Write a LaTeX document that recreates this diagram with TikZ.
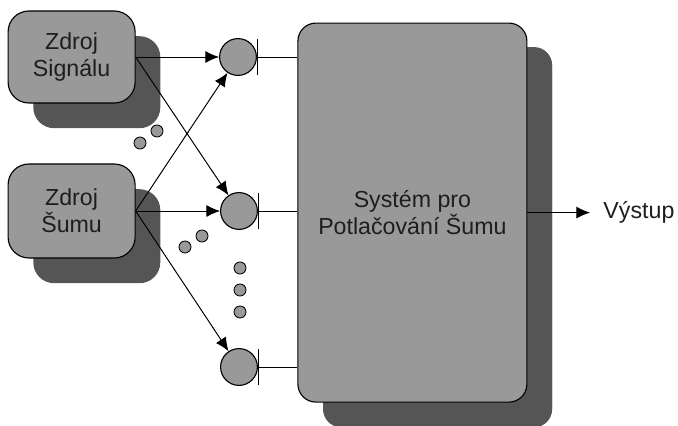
\documentclass[tikz,border=0pt]{standalone}
\usepackage{fontspec}
\setmainfont{Liberation Sans}
\usetikzlibrary{arrows.meta, positioning, calc, shadows}
\definecolor{boxgray}{RGB}{153,153,153}
\definecolor{shadowgray}{RGB}{85,85,85}
\definecolor{textgray}{RGB}{30,30,30}

\begin{document}
\begin{tikzpicture}[>={Latex[length=0.34cm, width=0.3cm]}, font=\fontsize{16.5}{19.5}\selectfont,
    srcbox/.style={draw, line width=0.8pt, rounded corners=0.52cm, fill=boxgray, text=textgray,
        minimum width=3.175cm, minimum height=2.3cm, align=center,
        drop shadow={shadow xshift=0.63cm, shadow yshift=-0.63cm, fill=shadowgray, opacity=1}},
    sumnode/.style={circle, draw, line width=0.8pt, fill=boxgray, minimum size=0.92cm, inner sep=0pt},
    dotnode/.style={circle, draw, line width=0.6pt, fill=boxgray, minimum size=0.3cm, inner sep=0pt},
    link/.style={->, line width=0.7pt}]
    \useasboundingbox (0,0) rectangle (16.95,10.625);

    % Signal source
    \node[srcbox] (signal) at (1.79,9.2) {Zdroj\\Signálu};

    % Noise source
    \node[srcbox, minimum height=2.35cm] (noise) at (1.79,5.35) {Zdroj\\Šumu};

    % Noise cancelling system
    \node[srcbox, rounded corners=0.45cm, minimum width=5.725cm, minimum height=9.475cm,
        drop shadow={shadow xshift=0.63cm, shadow yshift=-0.6cm, fill=shadowgray, opacity=1}]
        (system) at (10.31,5.31) {Systém pro\\Potlačování Šumu};

    % Summing points
    \node[sumnode] (sumA) at (5.95,9.2) {};
    \node[sumnode] (sumB) at (5.975,5.35) {};
    \node[sumnode] (sumC) at (5.975,1.45) {};

    % Output
    \node[anchor=west, inner xsep=0.33cm, text=textgray] (vystup) at (14.75,5.31) {Výstup};

    % Arrows: sources to summing points
    \draw[link] (signal.east) -- (sumA);
    \draw[link] (signal.east) -- (sumB);
    \draw[link] (noise.east) -- (sumA);
    \draw[link] (noise.east) -- (sumB);
    \draw[link] (noise.east) -- (sumC);

    % Lines: summing points to system
    \foreach \s in {sumA, sumB, sumC}
        \draw[{Bar[width=0.92cm, line width=0.8pt]}-, line width=0.7pt] (\s.east) -- (\s.east -| system.west);

    % Arrow: system to output
    \draw[link] (system.east |- vystup.west) -- (vystup.west);

    % Continuation dots
    \foreach \p [count=\i] in {(3.5,7.05), (3.925,7.35), (4.625,4.45), (5.05,4.725), (6.0,3.925), (6.0,3.375), (6.0,2.825)}
        \node[dotnode] (dot\i) at \p {};
\end{tikzpicture}
\end{document}
